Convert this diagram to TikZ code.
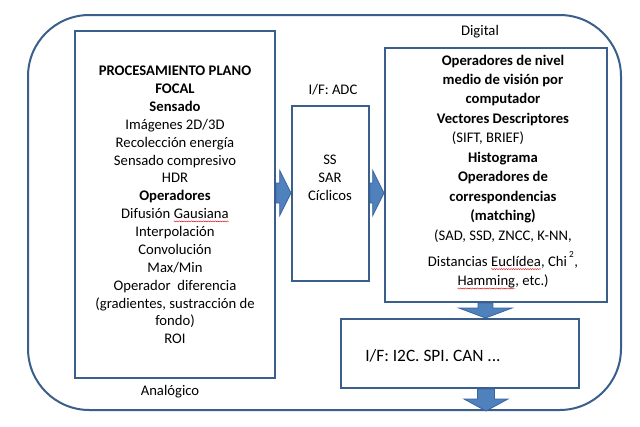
\documentclass[tikz,border=0pt]{standalone}
\usepackage{fontspec}
\setmainfont{Carlito}
\usetikzlibrary{calc,decorations.pathmorphing}
\definecolor{bord}{HTML}{3A5F8B}
\definecolor{arrfill}{HTML}{4F81BD}
\definecolor{arrline}{HTML}{3B64A0}
\newcommand\redwave[1]{\tikz[baseline=(w.base)]{\node[inner sep=0pt,outer sep=0pt] (w) {#1};
  \draw[red!85!black,line width=0.3pt,decorate,decoration={snake,amplitude=0.4pt,segment length=1.8pt}]
  ([yshift=-2pt]w.base west) -- ([yshift=-2pt]w.base east);}}
% horizontal block arrow: tail, tip
\newcommand\hblock[2]{\draw[blockarr] let \p1=(#1), \p2=(#2) in
  (\x1,\y1+7.5pt) -- (\x2-8.5pt,\y1+7.5pt) -- (\x2-8.5pt,\y1+17pt) -- (\x2,\y1)
  -- (\x2-8.5pt,\y1-17pt) -- (\x2-8.5pt,\y1-7.5pt) -- (\x1,\y1-7.5pt) -- cycle;}
% vertical block arrow: tail, tip, shaft half width, head half width, head length
\newcommand\vblock[5]{\draw[blockarr] let \p1=(#1), \p2=(#2) in
  (\x1-#3,\y1) -- (\x1-#3,\y2+#5) -- (\x1-#4,\y2+#5) -- (\x1,\y2)
  -- (\x1+#4,\y2+#5) -- (\x1+#3,\y2+#5) -- (\x1+#3,\y1) -- cycle;}
\begin{document}
\begin{tikzpicture}[x=0.75pt,y=-0.75pt,
  box/.style={draw=bord,line width=1.5pt,inner sep=0pt,rectangle},
  blockarr/.style={fill=arrfill,draw=arrline,line width=0.6pt},
  txt/.style={font=\fontsize{11pt}{13.4pt}\selectfont,align=center,text=black,inner sep=0pt},
  bigtxt/.style={font=\fontsize{13pt}{15.6pt}\selectfont,text=black,inner sep=0pt}]
\useasboundingbox (0,0) rectangle (640,426);
\fill[white] (0,0) rectangle (640,426);
% coordinates for arrow lines
\coordinate (r1) at (0,193);
\coordinate (c2) at (485.5,0);
\coordinate (c3) at (486,0);
% boxes
\node[box,rounded corners=46pt,minimum width=444.75pt,minimum height=296.25pt] (outer) at (324.5,212.5) {};
\node[box,minimum width=150pt,minimum height=260.25pt] (left) at (175,204.5) {};
\node[box,minimum width=57.75pt,minimum height=131.25pt] (mid) at (330.5,193.5) {};
\node[box,minimum width=166.5pt,minimum height=190.5pt] (right) at (496,175) {};
\node[box,minimum width=178.5pt,minimum height=51.75pt] (bot) at (460,353.5) {};
% arrows
\hblock{left.east |- r1}{mid.west |- r1}
\hblock{mid.east |- r1}{right.west |- r1}
\vblock{right.south -| c2}{bot.north -| c2}{5.6pt}{20pt}{7.5pt}
\vblock{bot.south -| c3}{outer.south -| c3}{6.4pt}{16.5pt}{9pt}
% texts
\node[txt] (lefttxt) at (175,205) {\textbf{PROCESAMIENTO PLANO}\\\textbf{FOCAL}\\\textbf{Sensado}\\
Imágenes 2D/3D\\Recolección energía\\Sensado compresivo\\HDR\\\textbf{Operadores}\\
Difusión \redwave{Gausiana}\\Interpolación\\Convolución\\Max/Min\\Operador~\ diferencia\\
(gradientes, sustracción de\\fondo)\\ROI};
\node[txt] (midtxt) at (330,178) {SS\\SAR\\Cíclicos};
\node[txt,font=\fontsize{11pt}{14.6pt}\selectfont] (righttxt) at (503,172) {\textbf{Operadores de nivel}\\\textbf{medio de visión por}\\\textbf{computador}\\
\textbf{Vectores Descriptores}\\(SIFT, BRIEF)\rule{22.5pt}{0pt}\\\textbf{Histograma}\\\textbf{Operadores de}\\
\textbf{correspondencias}\\\textbf{(matching)}\\(SAD, SSD, ZNCC, K-NN,\\[5pt]
Distancias \redwave{Euclídea}, Chi\kern1.5pt\raisebox{7pt}[0pt][0pt]{\scriptsize 2}\kern0.5pt,\\\redwave{Hamming}, etc.)};
\node[bigtxt,anchor=west] (bottxt) at (365,356) {I/F: I2C. SPI. CAN ...};
\node[txt] (adc) at (333,90) {I/F: ADC};
\node[txt] (dig) at (480,32) {Digital};
\node[txt] (ana) at (170,392) {Analógico};
\end{tikzpicture}
\end{document}
